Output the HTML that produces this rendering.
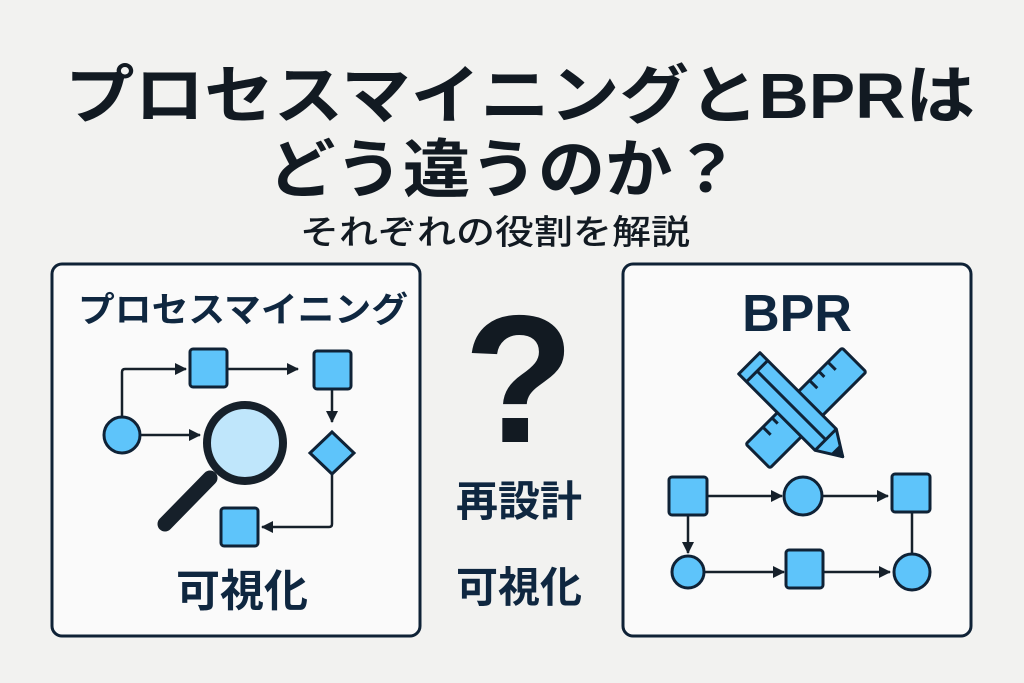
<!DOCTYPE html>
<html><head><meta charset="utf-8"><style>
html,body{margin:0;padding:0;background:#f2f2f0;}
svg{display:block}
text{font-family:"Liberation Sans","Noto Sans CJK JP",sans-serif;font-weight:bold}
</style></head><body>
<svg width="1024" height="683" viewBox="0 0 1024 683" xmlns="http://www.w3.org/2000/svg">
<defs>
<marker id="b" markerWidth="12" markerHeight="12" refX="11" refY="6" orient="auto" markerUnits="userSpaceOnUse" viewBox="0 0 12 12"><path d="M0,0 L12,6 L0,12 z" fill="#16202a"/></marker>
</defs>
<rect width="1024" height="683" fill="#f2f2f0"/>
<text x="65" y="118" font-size="64" fill="#121a22" textLength="910" lengthAdjust="spacingAndGlyphs">プロセスマイニングとBPRは</text>
<text x="268" y="192" font-size="64" fill="#121a22" textLength="472" lengthAdjust="spacingAndGlyphs">どう違うのか？</text>
<text x="300" y="244" font-size="34" fill="#121a22" textLength="390" lengthAdjust="spacingAndGlyphs" style="font-weight:500">それぞれの役割を解説</text>

<rect x="52" y="264" width="368" height="372" rx="10" fill="#fafafa" stroke="#0f2236" stroke-width="3"/>
<rect x="623" y="264" width="348" height="372" rx="10" fill="#fafafa" stroke="#0f2236" stroke-width="3"/>

<text x="78" y="322" font-size="35" fill="#0f2740" textLength="330" lengthAdjust="spacingAndGlyphs">プロセスマイニング</text>
<g stroke="#16202a" stroke-width="2.5" fill="none">
<path d="M122,416 V372 Q122,369 125,369 H186" marker-end="url(#b)"/>
<path d="M228,369 H298" marker-end="url(#b)"/>
<path d="M332,390 V422" marker-end="url(#b)"/>
<path d="M332,475 V524 Q332,527 329,527 H262" marker-end="url(#b)"/>
<path d="M141,435 H200" marker-end="url(#b)"/>
</g>
<g fill="#5ec4fa" stroke="#0f2236" stroke-width="3">
<rect x="190" y="349" width="37" height="38" rx="3"/>
<rect x="314" y="351" width="37" height="38" rx="3"/>
<rect x="221" y="508" width="37" height="38" rx="3"/>
<circle cx="122" cy="435" r="18"/>
<path d="M332,432 L354,453 L332,474 L310,453 z"/>
</g>
<line x1="210" y1="478" x2="165" y2="524" stroke="#16202a" stroke-width="15" stroke-linecap="round"/>
<circle cx="245" cy="443" r="38" fill="#bfe6fb" stroke="#16202a" stroke-width="8"/>
<text x="242" y="606" font-size="44" fill="#0f2740" text-anchor="middle">可視化</text>

<text x="519" y="442" font-size="182" fill="#121a22" text-anchor="middle" font-family="Liberation Sans">?</text>
<text x="519" y="516" font-size="42" fill="#0f2740" text-anchor="middle">再設計</text>
<text x="519" y="602" font-size="42" fill="#0f2740" text-anchor="middle">可視化</text>

<text x="797" y="331" font-size="52" fill="#0f2740" text-anchor="middle">BPR</text>
<g fill="#5ec4fa" stroke="#0f2236" stroke-width="3" stroke-linejoin="round">
<g transform="translate(806,408) rotate(-45)">
<rect x="-68" y="-17" width="136" height="34" rx="2"/>
<path d="M-44,-17 v11 M-31,-17 v8 M-18,-17 v11 M22,-17 v11 M35,-17 v8 M48,-17 v11" fill="none"/>
</g>
<g transform="translate(796,410) rotate(45)">
<path d="M-66,-15 H42 L66,0 L42,15 H-66 z"/>
<path d="M-55,-15 V15 M-55,0 H42 M42,-15 V15" fill="none"/>
<path d="M57,-5 L66,0 L57,5 z" fill="#0f2236"/>
</g>
</g>
<g stroke="#16202a" stroke-width="2.5" fill="none">
<path d="M708,496 H782" marker-end="url(#b)"/>
<path d="M822,496 H888" marker-end="url(#b)"/>
<path d="M688,515 V553" marker-end="url(#b)"/>
<path d="M912,512 V556"/>
<path d="M704,572 H784" marker-end="url(#b)"/>
<path d="M823,572 H890" marker-end="url(#b)"/>
</g>
<g fill="#5ec4fa" stroke="#0f2236" stroke-width="3">
<rect x="669" y="477" width="38" height="38" rx="3"/>
<circle cx="803" cy="496" r="19"/>
<rect x="892" y="474" width="38" height="38" rx="3"/>
<circle cx="688" cy="572" r="16"/>
<rect x="786" y="550" width="37" height="38" rx="3"/>
<circle cx="912" cy="572" r="18"/>
</g>
</svg>
</body></html>
